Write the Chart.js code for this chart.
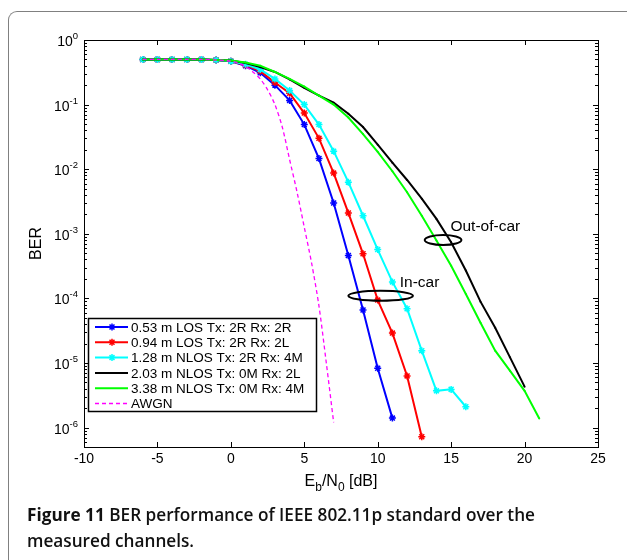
<!DOCTYPE html>
<html>
<head>
<meta charset="utf-8">
<script src="https://cdn.jsdelivr.net/npm/chart.js@4.4.1/dist/chart.umd.min.js"></script>
<style>
  html, body { margin: 0; padding: 0; background: #fff; }
  #wrap { position: relative; width: 627px; height: 560px; overflow: hidden; }
  #frame { position: absolute; left: 8px; top: 11px; width: 700px; height: 600px;
           border-left: 1.5px solid #808080; border-top: 1.5px solid #808080; border-top-left-radius: 9px; }
  #caption { position: absolute; left: 27px; top: 502px; width: 598px;
             font-family: "Open Sans", sans-serif; font-size: 17.2px; line-height: 26px; color: #111; font-weight: 600; }
  #caption b { font-weight: 700; }
  canvas { position: absolute; left: 0; top: 0; }
</style>
</head>
<body>
<div id="wrap">
  <div id="frame"></div>
  <canvas id="berChart" width="627" height="560"></canvas>
  <div id="caption"><b>Figure 11</b> BER performance of IEEE 802.11p standard over the<br>measured channels.</div>
</div>
<script>
// Eb/N0 grid (dB) for the measured channels
const ebn0 = [-6, -5, -4, -3, -2, -1, 0, 1, 2, 3, 4, 5, 6, 7, 8, 9, 10, 11, 12, 13, 14, 15, 16, 17, 18, 19, 20, 21];

// BER values
const ber053 = [0.5, 0.5, 0.5, 0.5, 0.5, 0.49, 0.47, 0.40, 0.31, 0.20, 0.116, 0.049, 0.0146, 3.0e-3, 4.6e-4, 6.6e-5, 8.3e-6, 1.4e-6];
const ber094 = [0.5, 0.5, 0.5, 0.5, 0.5, 0.49, 0.47, 0.41, 0.33, 0.22, 0.15, 0.074, 0.030, 8.7e-3, 2.1e-3, 4.9e-4, 9.4e-5, 2.9e-5, 6.3e-6, 7.2e-7];
const ber128 = [0.5, 0.5, 0.5, 0.5, 0.5, 0.49, 0.47, 0.42, 0.35, 0.25, 0.165, 0.10, 0.049, 0.019, 6.3e-3, 1.9e-3, 5.7e-4, 1.8e-4, 6.9e-5, 1.55e-5, 3.7e-6, 3.9e-6, 2.1e-6];
const ber203 = [0.5, 0.5, 0.5, 0.5, 0.5, 0.49, 0.48, 0.44, 0.38, 0.32, 0.245, 0.182, 0.138, 0.107, 0.072, 0.045, 0.024, 0.0126, 6.8e-3, 3.5e-3, 1.7e-3, 7.4e-4, 2.7e-4, 8.9e-5, 3.5e-5, 1.23e-5, 4.3e-6];
const ber338 = [0.5, 0.5, 0.5, 0.5, 0.5, 0.49, 0.48, 0.45, 0.40, 0.32, 0.25, 0.19, 0.138, 0.10, 0.063, 0.035, 0.0186, 9.3e-3, 4.4e-3, 1.9e-3, 7.9e-4, 3.2e-4, 1.17e-4, 4.2e-5, 1.55e-5, 7.6e-6, 3.7e-6, 1.38e-6];

const awgnX = [-6, -5, -4, -3, -2, -1, 0, 0.5, 1, 1.5, 2, 2.5, 3, 3.5, 4, 4.5, 5, 5.5, 6, 6.5, 7];
const awgnBer = [0.5, 0.5, 0.5, 0.5, 0.5, 0.49, 0.47, 0.44, 0.39, 0.32, 0.25, 0.17, 0.10, 0.045, 0.0141, 4.5e-3, 1.26e-3, 3.5e-4, 7.6e-5, 1.0e-5, 1.2e-6];

const seriesNames = ['0.53 m LOS Tx: 2R Rx: 2R', '0.94 m LOS Tx: 2R Rx: 2L', '1.28 m NLOS Tx: 2R Rx: 4M',
                     '2.03 m NLOS Tx: 0M Rx: 2L', '3.38 m NLOS Tx: 0M Rx: 4M', 'AWGN'];

const xTicks = [-10, -5, 0, 5, 10, 15, 20, 25];
const yExponents = [0, -1, -2, -3, -4, -5, -6];

const toPoints = (xs, ys) => ys.map((v, i) => ({ x: xs[i], y: v }));

function starSeries(label, color, values, order) {
    return {
        label: label,
        data: toPoints(ebn0, values),
        borderColor: color,
        backgroundColor: color,
        borderWidth: 2,
        pointStyle: 'star',
        pointRadius: 3.5,
        pointBorderWidth: 1.5,
        pointBorderColor: color,
        tension: 0,
        order: order
    };
}

function dotSeries(label, color, values, order) {
    return {
        label: label,
        data: toPoints(ebn0, values),
        borderColor: color,
        backgroundColor: color,
        borderWidth: 2,
        pointStyle: 'circle',
        pointRadius: 1,
        pointBorderWidth: 0,
        tension: 0,
        order: order
    };
}

const datasets = [
    starSeries(seriesNames[0], '#0000ff', ber053, 5),
    starSeries(seriesNames[1], '#ff0000', ber094, 4),
    starSeries(seriesNames[2], '#00ffff', ber128, 3),
    dotSeries(seriesNames[3], '#000000', ber203, 2),
    dotSeries(seriesNames[4], '#00ff00', ber338, 1),
    {
        label: seriesNames[5],
        data: toPoints(awgnX, awgnBer),
        borderColor: '#ff00ff',
        borderWidth: 1.3,
        borderDash: [4, 3],
        pointRadius: 0,
        tension: 0.3,
        order: 0
    }
];

const FONT = '"Liberation Sans", Arial, sans-serif';

function drawStar(ctx, x, y, r) {
    ctx.beginPath();
    ctx.moveTo(x - r, y); ctx.lineTo(x + r, y);
    ctx.moveTo(x, y - r); ctx.lineTo(x, y + r);
    const d = r * 0.7071;
    ctx.moveTo(x - d, y - d); ctx.lineTo(x + d, y + d);
    ctx.moveTo(x - d, y + d); ctx.lineTo(x + d, y - d);
    ctx.stroke();
}

// axes box, inward ticks, labels, legend and the two annotations
const figurePlugin = {
    id: 'figure',
    afterDatasetsDraw(chart) {
        const ctx = chart.ctx;
        const a = chart.chartArea;
        const xs = chart.scales.x, ys = chart.scales.y;
        ctx.save();
        ctx.strokeStyle = '#000';
        ctx.fillStyle = '#000';
        ctx.lineWidth = 1;
        ctx.setLineDash([]);

        // box
        ctx.strokeRect(a.left + 0.5, a.top + 0.5, a.right - a.left, a.bottom - a.top);

        // x ticks
        ctx.beginPath();
        xTicks.forEach(t => {
            const px = Math.round(xs.getPixelForValue(t)) + 0.5;
            ctx.moveTo(px, a.bottom); ctx.lineTo(px, a.bottom - 5);
            ctx.moveTo(px, a.top); ctx.lineTo(px, a.top + 5);
        });
        // y ticks (major + minor)
        for (let k = 0; k >= -7; k--) {
            for (let m = 1; m <= 9; m++) {
                const v = m * Math.pow(10, k);
                if (v > ys.max * 1.0001 || v < ys.min) continue;
                const py = Math.round(ys.getPixelForValue(v)) + 0.5;
                const len = m === 1 ? 5 : 3;
                ctx.moveTo(a.left, py); ctx.lineTo(a.left + len, py);
                ctx.moveTo(a.right, py); ctx.lineTo(a.right - len, py);
            }
        }
        ctx.stroke();

        // x tick labels
        ctx.font = '14px ' + FONT;
        ctx.textAlign = 'center';
        ctx.textBaseline = 'top';
        xTicks.forEach(t => {
            ctx.fillText(String(t), xs.getPixelForValue(t), a.bottom + 5);
        });

        // y tick labels 10^k
        yExponents.forEach(e => {
            const py = ys.getPixelForValue(Math.pow(10, e));
            const exp = String(e);
            ctx.font = '9.5px ' + FONT;
            const ew = ctx.measureText(exp).width;
            ctx.textAlign = 'left';
            ctx.textBaseline = 'alphabetic';
            const right = a.left - 6;
            ctx.fillText(exp, right - ew, py - 1);
            ctx.font = '14px ' + FONT;
            ctx.textAlign = 'right';
            ctx.fillText('10', right - ew, py + 6);
        });

        // axis titles
        ctx.textBaseline = 'alphabetic';
        const parts = [['E', 16, 0], ['b', 12, 5], ['/N', 16, 0], ['0', 12, 5], [' [dB]', 16, 0]];
        let total = 0;
        parts.forEach(p => { ctx.font = p[1] + 'px ' + FONT; total += ctx.measureText(p[0]).width; });
        let cx = (a.left + a.right) / 2 - total / 2;
        ctx.textAlign = 'left';
        parts.forEach(p => {
            ctx.font = p[1] + 'px ' + FONT;
            ctx.fillText(p[0], cx, a.bottom + 39 + p[2]);
            cx += ctx.measureText(p[0]).width;
        });
        ctx.save();
        ctx.translate(41, (a.top + a.bottom) / 2);
        ctx.rotate(-Math.PI / 2);
        ctx.font = '16px ' + FONT;
        ctx.textAlign = 'center';
        ctx.fillText('BER', 0, 0);
        ctx.restore();

        // annotations
        ctx.lineWidth = 2;
        const ell = (xc, yc, hw, ry) => {
            const px = xs.getPixelForValue(xc);
            const py = ys.getPixelForValue(yc);
            const rx = xs.getPixelForValue(xc + hw) - px;
            ctx.beginPath();
            ctx.ellipse(px, py, rx, ry, 0, 0, Math.PI * 2);
            ctx.stroke();
        };
        ell(10.2, 1.1e-4, 2.2, 5);
        ell(14.45, 8.0e-4, 1.25, 5);
        ctx.font = '15.5px ' + FONT;
        ctx.textAlign = 'left';
        ctx.textBaseline = 'middle';
        ctx.fillText('In-car', xs.getPixelForValue(11.5), ys.getPixelForValue(1.75e-4));
        ctx.fillText('Out-of-car', xs.getPixelForValue(14.95), ys.getPixelForValue(1.3e-3));

        // legend
        const lx = a.left + 4, ly = 318, lw = 228, lh = 93;
        ctx.fillStyle = '#fff';
        ctx.fillRect(lx, ly, lw, lh);
        ctx.lineWidth = 1.5;
        ctx.strokeStyle = '#000';
        ctx.strokeRect(lx + 0.5, ly + 0.5, lw, lh);
        chart.data.datasets.forEach((ds, i) => {
            const ry = ly + 9 + i * 15.3;
            ctx.strokeStyle = ds.borderColor;
            ctx.lineWidth = ds.borderWidth;
            ctx.setLineDash(ds.borderDash || []);
            ctx.beginPath();
            ctx.moveTo(lx + 7, ry); ctx.lineTo(lx + 40, ry);
            ctx.stroke();
            ctx.setLineDash([]);
            if (ds.pointStyle === 'star') {
                ctx.lineWidth = 1.5;
                drawStar(ctx, lx + 24, ry, 3.5);
            }
            ctx.fillStyle = '#000';
            ctx.font = '13.5px ' + FONT;
            ctx.textBaseline = 'middle';
            ctx.fillText(ds.label, lx + 43, ry + 1);
        });
        ctx.restore();
    }
};

const ctxBer = document.getElementById('berChart').getContext('2d');
const berChart = new Chart(ctxBer, {
    type: 'line',
    data: { datasets: datasets },
    options: {
        responsive: false,
        animation: false,
        layout: { padding: { left: 84, top: 40, right: 29, bottom: 113 } },
        scales: {
            x: { type: 'linear', min: -10, max: 25, display: false },
            y: { type: 'logarithmic', min: 5e-7, max: 1, display: false }
        },
        plugins: {
            legend: { display: false },
            tooltip: { enabled: false }
        }
    },
    plugins: [figurePlugin]
});
</script>
</body>
</html>
